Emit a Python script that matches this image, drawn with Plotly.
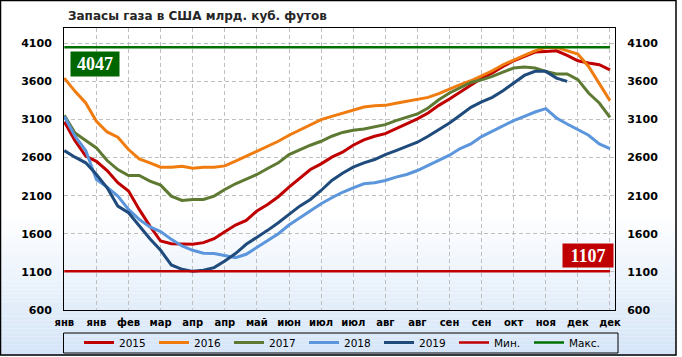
import plotly.graph_objects as go

# ---------------- data ----------------
month_labels = ["янв", "янв", "фев", "мар", "апр", "апр", "май", "июн", "июл",
                "июл", "авг", "авг", "сен", "сен", "окт", "ноя", "дек", "дек"]
weeks = list(range(52))
tick_weeks = weeks[::3]

s2015 = [3070, 2820, 2620, 2550, 2430, 2270, 2160, 1920, 1700, 1505,
         1470, 1462, 1462, 1484, 1536, 1628, 1715, 1776, 1898, 1985,
         2086, 2212, 2334, 2443, 2517, 2605, 2670, 2762, 2832, 2880,
         2914, 2980, 3041, 3107, 3185, 3285, 3368, 3460, 3556, 3640,
         3709, 3796, 3870, 3927, 3984, 3993, 4001, 3940, 3870, 3840,
         3818, 3752]
s2016 = [3643, 3469, 3316, 3076, 2936, 2867, 2705, 2583, 2531, 2474,
         2474, 2487, 2461, 2474, 2474, 2491, 2552, 2618, 2683, 2749,
         2814, 2893, 2958, 3024, 3098, 3141, 3183, 3220, 3264, 3281,
         3285, 3312, 3338, 3355, 3390, 3438, 3499, 3556, 3608, 3670,
         3739, 3818, 3883, 3940, 4001, 4047, 4045, 4001, 3958, 3796,
         3578, 3347]
s2017 = [3155, 2923, 2823, 2727, 2561, 2443, 2365, 2365, 2291, 2238,
         2094, 2037, 2051, 2051, 2094, 2181, 2256, 2312, 2378, 2457,
         2531, 2640, 2705, 2762, 2814, 2880, 2930, 2958, 2976, 3002,
         3032, 3085, 3128, 3172, 3250, 3359, 3447, 3512, 3586, 3620,
         3665, 3722, 3774, 3787, 3774, 3731, 3696, 3696, 3622, 3447,
         3316, 3128]
s2018 = [3141, 2880, 2692, 2312, 2212, 2094, 1920, 1789, 1689, 1628,
         1527, 1440, 1383, 1346, 1340, 1309, 1287, 1331, 1418, 1505,
         1601, 1715, 1811, 1907, 1994, 2073, 2145, 2203, 2256, 2269,
         2299, 2343, 2378, 2430, 2500, 2565, 2631, 2718, 2779, 2875,
         2945, 3024, 3085, 3141, 3198, 3242, 3120, 3041, 2967, 2893,
         2779, 2718]
s2019 = [2692, 2605, 2531, 2378, 2203, 1963, 1876, 1702, 1536, 1383,
         1191, 1134, 1107, 1121, 1156, 1244, 1340, 1462, 1549, 1645,
         1745, 1854, 1963, 2051, 2168, 2299, 2395, 2474, 2531, 2574,
         2640, 2692, 2749, 2801, 2880, 2967, 3054, 3155, 3259, 3330,
         3390, 3477, 3578, 3678, 3731, 3731, 3643, 3600]

series_names = ["2015", "2016", "2017", "2018", "2019"]
series_values = [s2015, s2016, s2017, s2018, s2019]
series_colors = ["#c00000", "#f07c10", "#5e7a32", "#5b96dc", "#1f4a7c"]

min_val = min(min(s) for s in series_values)
max_val = max(max(s) for s in series_values)

y_ticks = [600, 1100, 1600, 2100, 2600, 3100, 3600, 4100]
y_range = [600, 4300]

W, H = 682, 357
L, R, T, B = 64, 615, 28, 310
PW, PH = R - L, B - T


def px(xp):
    return (xp - L) / PW


def py(yp):
    return (B - yp) / PH


fig = go.Figure()
for name, vals, col in zip(series_names, series_values, series_colors):
    fig.add_trace(go.Scatter(x=weeks[:len(vals)], y=vals, mode="lines", name=name,
                             line=dict(color=col, width=3), yaxis="y"))
fig.add_trace(go.Scatter(x=[weeks[0], weeks[-1]], y=[min_val, min_val], mode="lines",
                         name="Мин.", line=dict(color="#c00000", width=2.5), yaxis="y2"))
fig.add_trace(go.Scatter(x=[weeks[0], weeks[-1]], y=[max_val, max_val], mode="lines",
                         name="Макс.", line=dict(color="#007000", width=2.5), yaxis="y2"))

# gradient background
shapes = []
g0, g1 = 215, 356
n = 36
c0 = (255, 255, 255)
c1 = (212, 228, 247)
for i in range(n):
    y0 = g0 + (g1 - g0) * i / n
    y1 = g0 + (g1 - g0) * (i + 1) / n
    t = (i + 0.5) / n
    c = tuple(round(c0[k] + (c1[k] - c0[k]) * t) for k in range(3))
    shapes.append(dict(type="rect", xref="paper", yref="paper", layer="below",
                       x0=px(0), x1=px(676), y0=py(y1), y1=py(y0),
                       fillcolor="rgb(%d,%d,%d)" % c, line=dict(width=0)))
# outer chart border
shapes.append(dict(type="rect", xref="paper", yref="paper", layer="above",
                   x0=px(0.5), x1=px(676), y0=py(355), y1=py(0.5),
                   line=dict(color="black", width=1.5), fillcolor="rgba(0,0,0,0)"))
# legend frame
shapes.append(dict(type="rect", xref="paper", yref="paper", layer="above",
                   x0=px(63.5), x1=px(618), y0=py(353), y1=py(333),
                   line=dict(color="black", width=1), fillcolor="rgba(0,0,0,0)"))

tick_font = dict(family="DejaVu Sans", size=11, color="#000000", weight="bold")
axis_common = dict(range=y_range, tickvals=y_ticks, showline=True, linecolor="black",
                   linewidth=1, ticks="", tickfont=tick_font, zeroline=False,
                   ticklabelstandoff=9)

fig.update_layout(
    width=W, height=H,
    margin=dict(l=L, r=W - R, t=T, b=H - B, autoexpand=False),
    paper_bgcolor="white",
    plot_bgcolor="rgba(0,0,0,0)",
    font=dict(family="DejaVu Sans", color="#000000"),
    title=dict(text="Запасы газа в США млрд. куб. футов", x=68 / W, xanchor="left",
               y=1 - 15.5 / H, yanchor="middle",
               font=dict(family="DejaVu Sans", size=12, color="#262626", weight="bold")),
    xaxis=dict(range=[-0.03, 51.47], tickvals=tick_weeks, ticktext=month_labels,
               showgrid=True, gridcolor="#bfbfbf", griddash="4px,3px", gridwidth=1,
               showline=True, linecolor="black", linewidth=1, mirror=True,
               ticks="", tickfont=dict(family="DejaVu Sans", size=10, color="#000000",
                                       weight="bold"),
               tickangle=0, zeroline=False, ticklabelstandoff=3),
    yaxis=dict(**axis_common, showgrid=True, gridcolor="#bfbfbf", griddash="4px,3px",
               gridwidth=1, mirror=True, side="left"),
    yaxis2=dict(**axis_common, showgrid=False, overlaying="y", side="right"),
    legend=dict(orientation="h", x=px(79), xanchor="left", y=py(328), yanchor="top",
                borderwidth=0, bgcolor="rgba(0,0,0,0)",
                font=dict(family="DejaVu Sans", size=10.5, color="#000000"),
                entrywidth=30, entrywidthmode="pixels", itemwidth=30,
                traceorder="normal"),
    shapes=shapes,
    showlegend=True,
)

fig.add_annotation(xref="paper", yref="paper", x=px(70), y=py(51), xanchor="left",
                   yanchor="top", text="<b>%d</b>" % max_val, showarrow=False,
                   bgcolor="#006600", width=48, height=24, borderpad=0,
                   align="center", valign="middle",
                   font=dict(family="Liberation Serif", size=18, color="white"))
fig.add_annotation(xref="paper", yref="paper", x=px(562), y=py(243), xanchor="left",
                   yanchor="top", text="<b>%d</b>" % min_val, showarrow=False,
                   bgcolor="#c00000", width=50, height=23, borderpad=0,
                   align="center", valign="middle",
                   font=dict(family="Liberation Serif", size=18, color="white"))

fig.write_html("out.html", config={"displayModeBar": False},
               post_script="document.body.style.margin='0px';")
